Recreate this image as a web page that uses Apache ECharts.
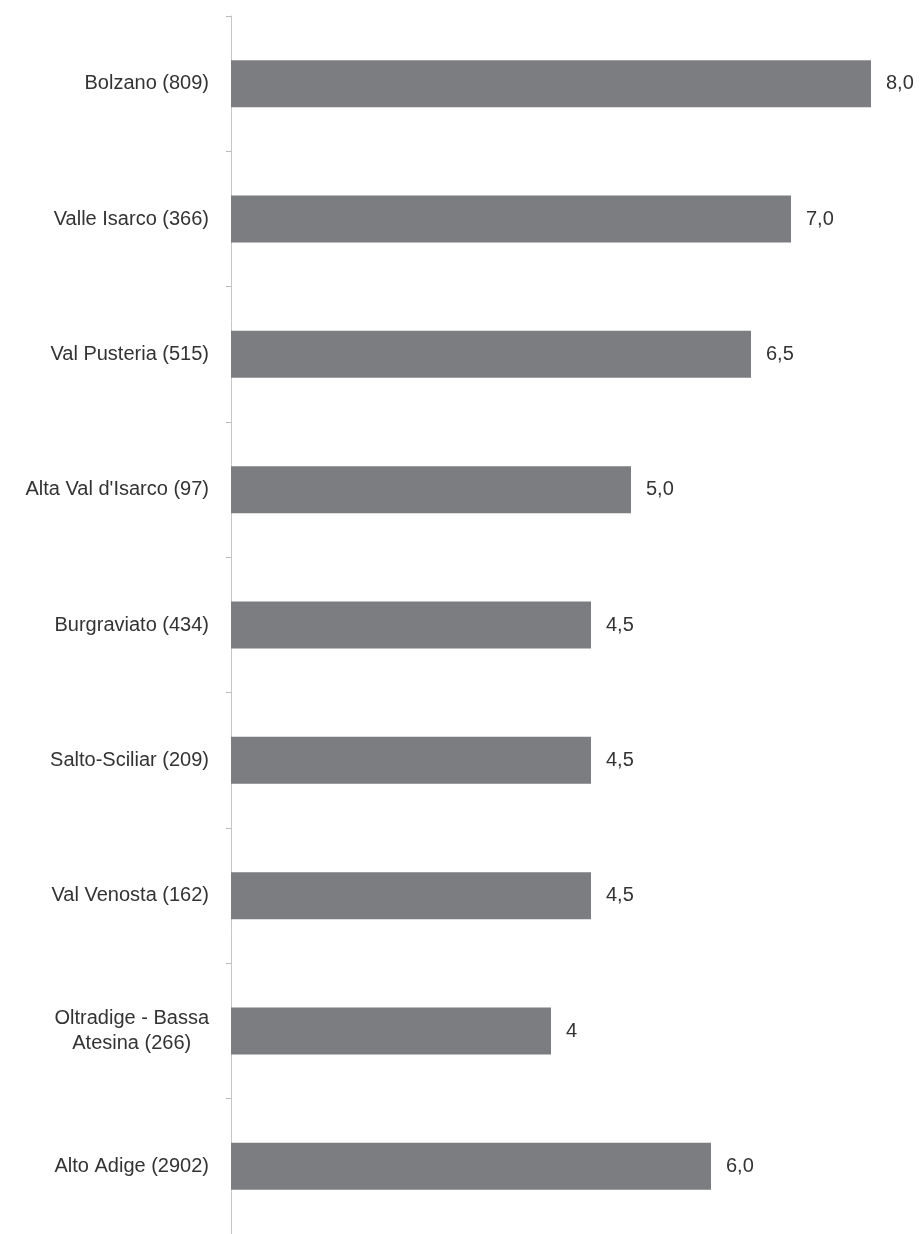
<!DOCTYPE html>
<html>
<head>
<meta charset="utf-8">
<style>
  html, body { margin: 0; padding: 0; background: #ffffff; }
  #chart { width: 921px; height: 1234px; }
</style>
<script src="https://cdn.jsdelivr.net/npm/echarts@6/dist/echarts.min.js"></script>
</head>
<body>
<div id="chart"></div>
<script>
// Districts (sample size in brackets), top to bottom
const categories = [
  'Bolzano (809)',
  'Valle Isarco (366)',
  'Val Pusteria (515)',
  "Alta Val d'Isarco (97)",
  'Burgraviato (434)',
  'Salto-Sciliar (209)',
  'Val Venosta (162)',
  'Oltradige - Bassa\nAtesina (266)',
  'Alto Adige (2902)'
];

// Bar values
const values = [8.0, 7.0, 6.5, 5.0, 4.5, 4.5, 4.5, 4, 6.0];

// Printed value labels (Italian decimal comma)
const valueLabels = ['8,0', '7,0', '6,5', '5,0', '4,5', '4,5', '4,5', '4', '6,0'];

const FONT = '"Liberation Sans", Arial, sans-serif';
const TEXT_COLOR = '#333333';

const chart = echarts.init(document.getElementById('chart'), null, { renderer: 'canvas' });

chart.setOption({
  backgroundColor: '#ffffff',
  animation: false,
  grid: {
    left: 231,
    top: 16,
    width: 680,
    height: 1224
  },
  xAxis: {
    type: 'value',
    min: 0,
    max: 8.5,
    show: false
  },
  yAxis: {
    type: 'category',
    inverse: true,
    data: categories,
    axisLine: { show: true, lineStyle: { color: '#c6c6c6', width: 1 } },
    axisTick: { show: true, length: 5, lineStyle: { color: '#b8b8b8', width: 1 } },
    splitLine: { show: false },
    axisLabel: {
      margin: 22,
      fontFamily: FONT,
      fontSize: 20,
      color: TEXT_COLOR,
      lineHeight: 25,
      formatter: function (v) {
        // multi-line names are centred line by line
        return v.split('\n').map(function (s) { return '{c|' + s + '}'; }).join('\n');
      },
      rich: {
        c: {
          align: 'center',
          fontFamily: FONT,
          fontSize: 20,
          color: TEXT_COLOR,
          lineHeight: 25
        }
      }
    }
  },
  series: [{
    type: 'bar',
    data: values,
    barWidth: 47,
    itemStyle: { color: '#7c7d81' },
    label: {
      show: true,
      position: 'right',
      distance: 15,
      fontFamily: FONT,
      fontSize: 20,
      color: TEXT_COLOR,
      formatter: function (p) { return valueLabels[p.dataIndex]; }
    }
  }]
});
</script>
</body>
</html>
